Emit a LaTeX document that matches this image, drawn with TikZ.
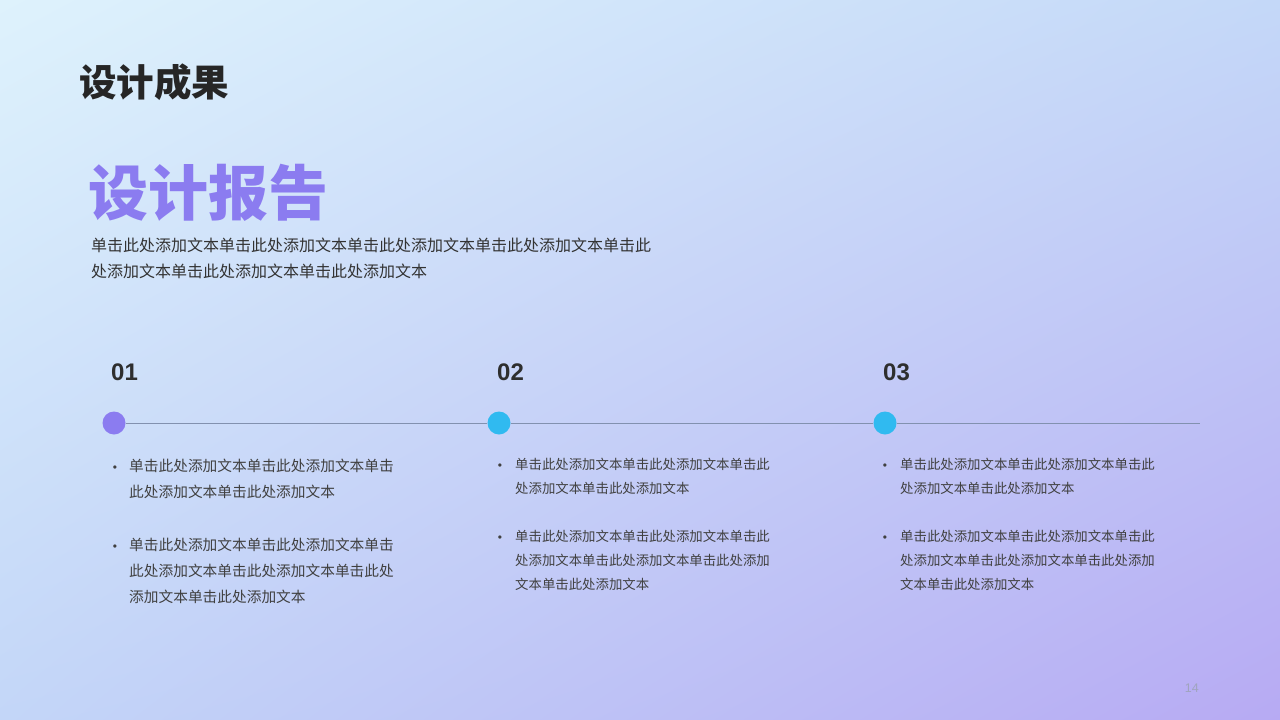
\documentclass[tikz,border=0pt]{standalone}
\usepackage{fontspec}
\setmainfont{Liberation Sans}
\newfontfamily\cjk{Noto Sans CJK SC}
\usetikzlibrary{positioning,calc,shadings}

\definecolor{bgtl}{RGB}{222,242,252}
\definecolor{bgtr}{RGB}{196,216,248}
\definecolor{bgbl}{RGB}{195,214,248}
\definecolor{bgbr}{RGB}{183,170,243}
\definecolor{headpurple}{RGB}{139,124,240}
\definecolor{stepcyan}{RGB}{48,186,240}
\definecolor{linegray}{RGB}{130,145,175}
\definecolor{pagegray}{RGB}{160,164,190}

\begin{document}
\begin{tikzpicture}[x=1pt, y=-1pt,
  slidetitle/.style={anchor=base west, inner sep=0pt, text=black!85,
              font=\cjk\bfseries\fontsize{37.5}{40}\selectfont},
  heading/.style={anchor=base west, inner sep=0pt, text=headpurple,
              font=\cjk\bfseries\fontsize{60}{64}\selectfont},
  intro/.style={anchor=base west, inner sep=0pt, align=left, text=black!80,
              font=\cjk\fontsize{16}{26}\selectfont},
  stepnum/.style={anchor=base west, inner sep=0pt, text=black!82,
              font=\bfseries\fontsize{24}{28}\selectfont},
  markdot/.style={circle, inner sep=0pt, minimum size=23pt},
  listtext/.style={anchor=base west, inner sep=0pt, align=left, text=black!75,
              font=\cjk\fontsize{13.4}{24}\selectfont},
  biglisttext/.style={listtext, font=\cjk\fontsize{14.7}{26}\selectfont},
  bulletmark/.style={anchor=base, inner sep=0pt, text=black!75,
              font=\fontsize{12}{12}\selectfont},
  timeline/.style={draw=linegray, line width=0.9pt},
]
% background
\shade[upper left=bgtl, upper right=bgtr, lower left=bgbl, lower right=bgbr]
  (0,0) rectangle (1280,720);
\useasboundingbox (0,0) rectangle (1280,720);

% header (multi-line nodes sit on the baseline of their last line)
\node[slidetitle] (title) at (79,96) {设计成果};
\node[heading] (report) at (88,215) {设计报告};
\node[intro] (intro) at (91,277)
  {单击此处添加文本单击此处添加文本单击此处添加文本单击此处添加文本单击此\\
   处添加文本单击此处添加文本单击此处添加文本};

% timeline
\node[markdot, fill=headpurple] (c1) at (114,423) {};
\node[markdot, fill=stepcyan] (c2) at (499,423) {};
\node[markdot, fill=stepcyan] (c3) at (885,423) {};
\coordinate (tlend) at (1200,423);
\draw[timeline] (c1) -- (c2) -- (c3) -- (tlend);

\node[stepnum] (n1) at (111,380) {01};
\node[stepnum] (n2) at (497,380) {02};
\node[stepnum] (n3) at (883,380) {03};

% column 1
\node[bulletmark] (b11) at (115,471.5) {•};
\node[biglisttext] (t11) at (129,497.5)
  {单击此处添加文本单击此处添加文本单击\\此处添加文本单击此处添加文本};
\node[bulletmark] (b12) at (115,550.5) {•};
\node[biglisttext] (t12) at (129,602.5)
  {单击此处添加文本单击此处添加文本单击\\此处添加文本单击此处添加文本单击此处\\添加文本单击此处添加文本};

% column 2
\node[bulletmark] (b21) at (500,469) {•};
\node[listtext] (t21) at (515,493)
  {单击此处添加文本单击此处添加文本单击此\\处添加文本单击此处添加文本};
\node[bulletmark] (b22) at (500,541) {•};
\node[listtext] (t22) at (515,589)
  {单击此处添加文本单击此处添加文本单击此\\处添加文本单击此处添加文本单击此处添加\\文本单击此处添加文本};

% column 3
\node[bulletmark] (b31) at (885,469) {•};
\node[listtext] (t31) at (900,493)
  {单击此处添加文本单击此处添加文本单击此\\处添加文本单击此处添加文本};
\node[bulletmark] (b32) at (885,541) {•};
\node[listtext] (t32) at (900,589)
  {单击此处添加文本单击此处添加文本单击此\\处添加文本单击此处添加文本单击此处添加\\文本单击此处添加文本};

% page number
\node[anchor=base east, inner sep=0pt, text=pagegray, font=\fontsize{12.5}{14}\selectfont]
  (page) at (1199,692) {14};
\end{tikzpicture}
\end{document}
